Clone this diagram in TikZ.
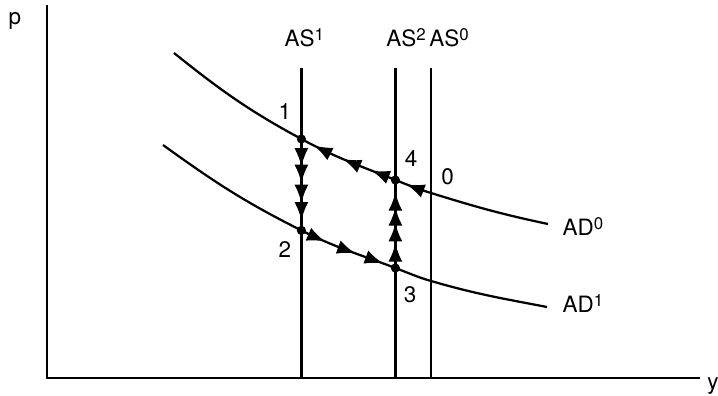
\documentclass[tikz,border=0pt]{standalone}
\usepackage{fontspec}
\setmainfont{TeX Gyre Heros}
\usetikzlibrary{arrows.meta, decorations.markings}
\newcommand{\upidx}[1]{\raisebox{4.5pt}{\fontsize{12}{14}\selectfont #1}}

\begin{document}
\begin{tikzpicture}[line width=1.6pt, font=\fontsize{16}{19}\selectfont,
  flowtip/.tip={Latex[length=13pt, width=10pt]},
  dot/.style={circle, fill, inner sep=0pt, minimum size=6.5pt},
  flow/.style={postaction={decorate, decoration={markings, mark=at position #1 with {\arrow{flowtip}}}}}]
  \useasboundingbox (-1.175, -0.45) rectangle (16.775, 9.45);
  % axes
  \coordinate (o) at (0, 0);
  \coordinate (ptop) at (0, 9.325);
  \coordinate (yend) at (16.325, 0);
  \draw (ptop) -- (o) -- (yend);
  \node[anchor=base] (plab) at (-0.8, 8.825) {p};
  \node[anchor=base west, inner sep=0pt] (ylab) at (16.48, -0.3) {y};
  % supply lines
  \foreach \nm/\x/\lx in {1/6.36/6.43, 2/8.71/8.975, 0/9.6/10.05} {
    \coordinate (top\nm) at (\x, 7.75);
    \coordinate (bot\nm) at (\x, 0);
    \draw (top\nm) -- (bot\nm);
    \node[anchor=base] (aslab\nm) at (\lx, 8.275) {AS\upidx{\nm}};
  }
  % demand curves
  \coordinate (s0) at (3.175, 8.125);
  \coordinate (p1) at (6.36, 5.975);
  \coordinate (p4) at (8.71, 4.95);
  \coordinate (q0) at (9.6, 4.625);
  \coordinate (e0) at (12.525, 3.85);
  \coordinate (s1) at (2.9, 5.825);
  \coordinate (p2) at (6.36, 3.69);
  \coordinate (p3) at (8.71, 2.75);
  \coordinate (r0) at (9.6, 2.425);
  \coordinate (e1) at (12.5, 1.775);
  \draw (s0) to[out=-38.7, in=151.6] (p1) to[out=-28.4, in=158.2] (p4)
    to[out=-21.8, in=162.8] (q0) to[out=-17.2, in=168.1] (e0);
  \draw (s1) to[out=-35.8, in=153.4] (p2) to[out=-26.6, in=159.2] (p3)
    to[out=-20.8, in=163.8] (r0) to[out=-16.2, in=169.2] (e1);
  \node[anchor=base] (adlab0) at (13.4, 3.55) {AD\upidx{0}};
  \node[anchor=base] (adlab1) at (13.4, 1.625) {AD\upidx{1}};
  % adjustment path
  \path[flow=0.69] (q0) to[out=162.8, in=-21.8] (p4);
  \foreach \fr in {0.25, 0.55, 0.86}
    \path[flow=\fr] (p4) to[out=158.2, in=-28.4] (p1);
  \foreach \fr in {0.30, 0.48, 0.70, 0.89}
    \path[flow=\fr] (p1) -- (p2);
  \foreach \fr in {0.26, 0.58, 0.87}
    \path[flow=\fr] (p2) to[out=-26.6, in=159.2] (p3);
  \foreach \fr in {0.28, 0.51, 0.69, 0.86}
    \path[flow=\fr] (p3) -- (p4);
  \foreach \i in {1, 2, 3, 4}
    \node[dot] (d\i) at (p\i) {};
  % point labels
  \node (n1) at (5.95, 6.65) {1};
  \node (n2) at (5.95, 3.2) {2};
  \node (n3) at (9.075, 2.075) {3};
  \node (n4) at (9.1, 5.475) {4};
  \node (n0) at (10.0125, 5.04) {0};
\end{tikzpicture}
\end{document}
